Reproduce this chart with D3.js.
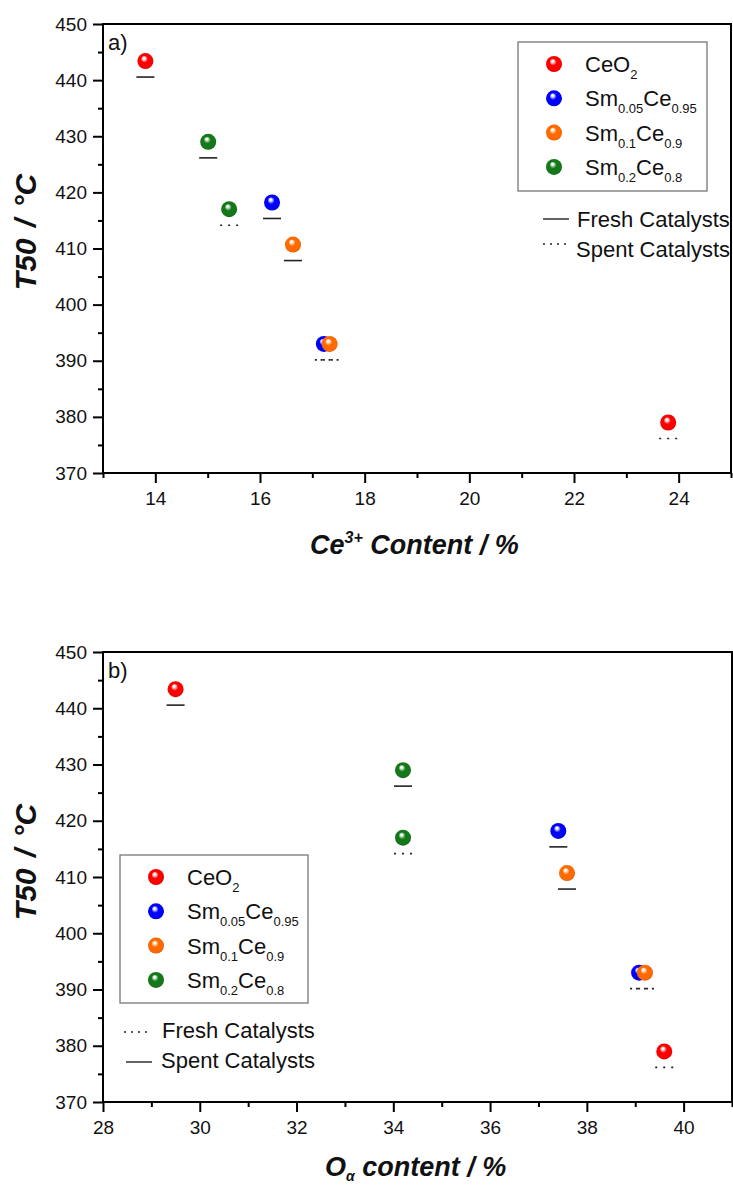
<!DOCTYPE html>
<html>
<head>
<meta charset="utf-8">
<script src="https://cdn.jsdelivr.net/npm/d3@7"></script>
<style>
  html, body { margin: 0; padding: 0; background: #fff; }
  svg { display: block; font-family: "Liberation Sans", Arial, sans-serif; }
</style>
</head>
<body>
<svg id="chart" width="733" height="1188"></svg>
<script>
// Catalyst samples and their legend labels (text parts, "sub" = subscript)
const samples = ["CeO2", "Sm0.05Ce0.95", "Sm0.1Ce0.9", "Sm0.2Ce0.8"];
const sampleLabels = [
  [["CeO", ""], ["2", "sub"]],
  [["Sm", ""], ["0.05", "sub"], ["Ce", ""], ["0.95", "sub"]],
  [["Sm", ""], ["0.1", "sub"], ["Ce", ""], ["0.9", "sub"]],
  [["Sm", ""], ["0.2", "sub"], ["Ce", ""], ["0.8", "sub"]]
];
const sampleColors = ["#ff0000", "#0000ff", "#ff6a00", "#14781a"];
const sampleLights = ["#ff9a9a", "#9a9aff", "#ffc08a", "#8ec48e"];
const sampleEdges  = ["#b00000", "#0000a0", "#c04800", "#0a4a0e"];

// One entry per measured catalyst
const pointSample = ["CeO2", "Sm0.2Ce0.8", "Sm0.2Ce0.8", "Sm0.05Ce0.95", "Sm0.1Ce0.9", "Sm0.05Ce0.95", "Sm0.1Ce0.9", "CeO2"];
const t50Values   = [443.4, 429.0, 417.0, 418.2, 410.7, 393.0, 393.0, 379.0];
const ce3Content  = [13.81, 15.01, 15.41, 16.23, 16.63, 17.22, 17.33, 23.8];
const oAlphaContent = [29.5, 34.2, 34.2, 37.41, 37.59, 39.08, 39.2, 39.6];
const stateA = ["fresh", "fresh", "spent", "fresh", "fresh", "spent", "spent", "spent"];
const stateB = ["spent", "spent", "fresh", "spent", "spent", "fresh", "fresh", "fresh"];

// Axis ticks
const yTicks = [370, 380, 390, 400, 410, 420, 430, 440, 450];
const xTicksA = [14, 16, 18, 20, 22, 24];
const xTicksB = [28, 30, 32, 34, 36, 38, 40];

const svg = d3.select("#chart");
const defs = svg.append("defs");

// Glossy sphere gradients
samples.forEach((s, i) => {
  const g = defs.append("radialGradient")
    .attr("id", "sphere" + i)
    .attr("cx", "50%").attr("cy", "50%").attr("r", "55%")
    .attr("fx", "40%").attr("fy", "30%");
  g.append("stop").attr("offset", "0%").attr("stop-color", "#ffffff");
  g.append("stop").attr("offset", "10%").attr("stop-color", "#ffffff").attr("stop-opacity", 0.95);
  g.append("stop").attr("offset", "24%").attr("stop-color", sampleLights[i]);
  g.append("stop").attr("offset", "40%").attr("stop-color", sampleColors[i]);
  g.append("stop").attr("offset", "82%").attr("stop-color", sampleColors[i]);
  g.append("stop").attr("offset", "100%").attr("stop-color", sampleEdges[i]);
});

const fontFamily = '"Liberation Sans", Arial, sans-serif';

function addRichText(sel, parts, size, subSize, subShift) {
  let shift = 0;
  parts.forEach(([t, kind]) => {
    const ts = sel.append("tspan").text(t);
    if (kind === "sub") {
      ts.attr("font-size", subSize).attr("dy", subShift - shift);
      shift = subShift;
    } else if (kind === "sup") {
      ts.attr("font-size", subSize).attr("dy", -subShift - shift);
      shift = -subShift;
    } else {
      ts.attr("font-size", size).attr("dy", -shift);
      shift = 0;
    }
  });
}

function drawPanel(cfg) {
  const g = svg.append("g");
  const x = d3.scaleLinear().domain(cfg.xDomain).range([cfg.left, cfg.right]);
  const y = d3.scaleLinear().domain([370, 450]).range([cfg.bottom, cfg.top]);

  // minor ticks
  const minorX = d3.range(cfg.xDomain[0], cfg.xDomain[1] + 0.001, 1).filter(v => !cfg.xTicks.includes(v));
  const minorY = d3.range(370, 451, 5).filter(v => !yTicks.includes(v));
  g.append("g").attr("transform", `translate(0,${cfg.bottom})`)
    .call(d3.axisBottom(x).tickValues(minorX).tickSize(5).tickSizeOuter(0).tickFormat(""))
    .call(a => a.select(".domain").remove());
  g.append("g").attr("transform", `translate(${cfg.left},0)`)
    .call(d3.axisLeft(y).tickValues(minorY).tickSize(5).tickSizeOuter(0).tickFormat(""))
    .call(a => a.select(".domain").remove());

  // major axes
  const xa = g.append("g").attr("transform", `translate(0,${cfg.bottom})`)
    .call(d3.axisBottom(x).tickValues(cfg.xTicks).tickSize(10).tickPadding(9).tickSizeOuter(0).tickFormat(d3.format("d")));
  const ya = g.append("g").attr("transform", `translate(${cfg.left},0)`)
    .call(d3.axisLeft(y).tickValues(yTicks).tickSize(10).tickPadding(6).tickSizeOuter(0).tickFormat(d3.format("d")));
  [xa, ya].forEach(a => {
    a.selectAll("text").attr("font-size", 19).attr("font-family", fontFamily).attr("fill", "#111");
    a.select(".domain").remove();
  });
  g.selectAll(".tick line").attr("stroke", "#000").attr("stroke-width", 2);

  // frame
  g.append("rect")
    .attr("x", cfg.left).attr("y", cfg.top)
    .attr("width", cfg.right - cfg.left).attr("height", cfg.bottom - cfg.top)
    .attr("fill", "none").attr("stroke", "#000").attr("stroke-width", 2);

  // panel tag
  g.append("text").attr("x", cfg.left + 5).attr("y", cfg.top + 26)
    .attr("font-size", 22).attr("fill", "#111").text(cfg.tag);

  // fresh / spent markers beneath each sphere
  const pts = pointSample.map((s, i) => ({
    s, ci: samples.indexOf(s), x: cfg.xValues[i], y: t50Values[i], state: cfg.state[i]
  }));
  g.selectAll("line.state").data(pts).enter().append("line")
    .attr("class", "state")
    .attr("x1", d => x(d.x) - 9).attr("x2", d => x(d.x) + 9)
    .attr("y1", d => y(d.y) + 16).attr("y2", d => y(d.y) + 16)
    .attr("stroke", "#222").attr("stroke-width", 1.6)
    .attr("stroke-dasharray", d => cfg.styleOf[d.state] === "dotted" ? "2,6" : null);

  g.selectAll("circle.pt").data(pts).enter().append("circle")
    .attr("class", "pt")
    .attr("cx", d => x(d.x)).attr("cy", d => y(d.y)).attr("r", 8)
    .attr("fill", d => `url(#sphere${d.ci})`);

  // sample legend
  const L = cfg.legend;
  g.append("rect").attr("x", L.x).attr("y", L.y).attr("width", L.w).attr("height", L.h)
    .attr("fill", "#fff").attr("stroke", "#777").attr("stroke-width", 1.3);
  samples.forEach((s, i) => {
    const cy = L.y + 22 + i * 34.3;
    g.append("circle").attr("cx", L.x + 36).attr("cy", cy).attr("r", 8)
      .attr("fill", `url(#sphere${i})`);
    const t = g.append("text").attr("x", L.x + 67).attr("y", cy + 8)
      .attr("fill", "#111").attr("font-size", 22);
    addRichText(t, sampleLabels[i], 22, 13, 7);
  });

  // line-style legend
  cfg.lineLegend.forEach(item => {
    g.append("line").attr("x1", item.x).attr("x2", item.x + 26)
      .attr("y1", item.ly).attr("y2", item.ly)
      .attr("stroke", "#222").attr("stroke-width", 1.4)
      .attr("stroke-dasharray", item.style === "dotted" ? "2,5" : null);
    g.append("text").attr("x", item.tx).attr("y", item.ty)
      .attr("font-size", 22).attr("fill", "#111").text(item.label);
  });

  // axis titles
  g.append("text")
    .attr("transform", `translate(36,${cfg.yTitleCenter}) rotate(-90)`)
    .attr("text-anchor", "middle")
    .attr("font-size", 30).attr("font-weight", "bold").attr("font-style", "italic")
    .attr("word-spacing", 3)
    .attr("fill", "#111")
    .text("T50 / °C");

  const xt = g.append("text").attr("x", cfg.xTitle.x).attr("y", cfg.xTitle.y)
    .attr("font-weight", "bold").attr("font-style", "italic").attr("fill", "#111");
  addRichText(xt, cfg.xTitle.parts, 27, cfg.xTitle.minor, cfg.xTitle.shift);
}

drawPanel({
  left: 103, right: 731, top: 24, bottom: 473,
  xDomain: [13, 25], xTicks: xTicksA, xValues: ce3Content, state: stateA,
  styleOf: { fresh: "solid", spent: "dotted" },
  tag: "a)",
  legend: { x: 518, y: 42, w: 189, h: 149 },
  lineLegend: [
    { x: 543, ly: 219, tx: 577, ty: 227, style: "solid", label: "Fresh Catalysts" },
    { x: 543, ly: 244, tx: 576, ty: 257, style: "dotted", label: "Spent Catalysts" }
  ],
  yTitleCenter: 232,
  xTitle: { x: 310, y: 554, shift: 11, minor: 16, parts: [["Ce", ""], ["3+", "sup"], [" Content / %", ""]] }
});

drawPanel({
  left: 103, right: 732, top: 652, bottom: 1102,
  xDomain: [28, 41], xTicks: xTicksB, xValues: oAlphaContent, state: stateB,
  styleOf: { fresh: "dotted", spent: "solid" },
  tag: "b)",
  legend: { x: 120, y: 855, w: 188, h: 148 },
  lineLegend: [
    { x: 124, ly: 1032, tx: 162, ty: 1038, style: "dotted", label: "Fresh Catalysts" },
    { x: 126, ly: 1062, tx: 161, ty: 1068, style: "solid", label: "Spent Catalysts" }
  ],
  yTitleCenter: 862,
  xTitle: { x: 325, y: 1176, shift: 5, minor: 14, parts: [["O", ""], ["α", "sub"], [" content / %", ""]] }
});
</script>
</body>
</html>
